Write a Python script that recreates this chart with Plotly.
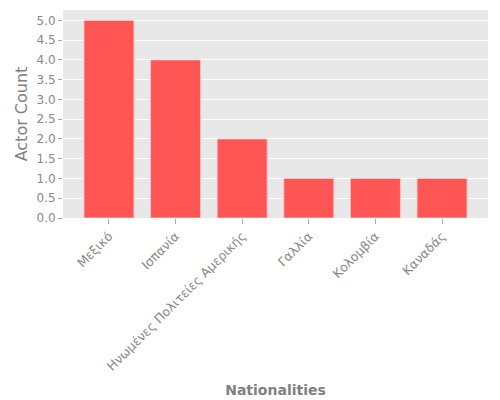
import plotly.graph_objects as go

nationalities = ['Μεξικό', 'Ισπανία', 'Ηνωμένες Πολιτείες Αμερικής', 'Γαλλία', 'Κολομβία', 'Καναδάς']
actor_counts = [5, 4, 2, 1, 1, 1]

fig = go.Figure()
fig.add_trace(go.Bar(x=nationalities, y=actor_counts,
                     marker=dict(color='#ff5555', line=dict(color='rgba(255,200,200,0.8)', width=1))))

fig.update_layout(width=500, height=400, template='none',
                  font=dict(family='DejaVu Sans', size=12, color='#888888'),
                  plot_bgcolor='#e8e8e8', paper_bgcolor='white',
                  margin=dict(l=55, r=20, t=2, b=190), bargap=0.25, showlegend=False)
fig.update_xaxes(title=dict(text='<b>Nationalities</b>', font=dict(size=14, color='#808080'), standoff=12),
                 automargin=False, range=[-0.69, 5.69], tickfont=dict(size=12.5),
                 tickangle=-45, ticks='outside', ticklen=5, tickcolor='#aaaaaa',
                 showgrid=False, showline=False, zeroline=False)
fig.update_yaxes(title=dict(text='Actor Count', font=dict(size=16, color='#808080'), standoff=4),
                 automargin=False,
                 dtick=0.5, tickformat='.1f', ticks='outside', ticklen=4, tickcolor='#aaaaaa',
                 gridcolor='white', gridwidth=1, showline=False, zeroline=False)

fig.write_html("out.html")
